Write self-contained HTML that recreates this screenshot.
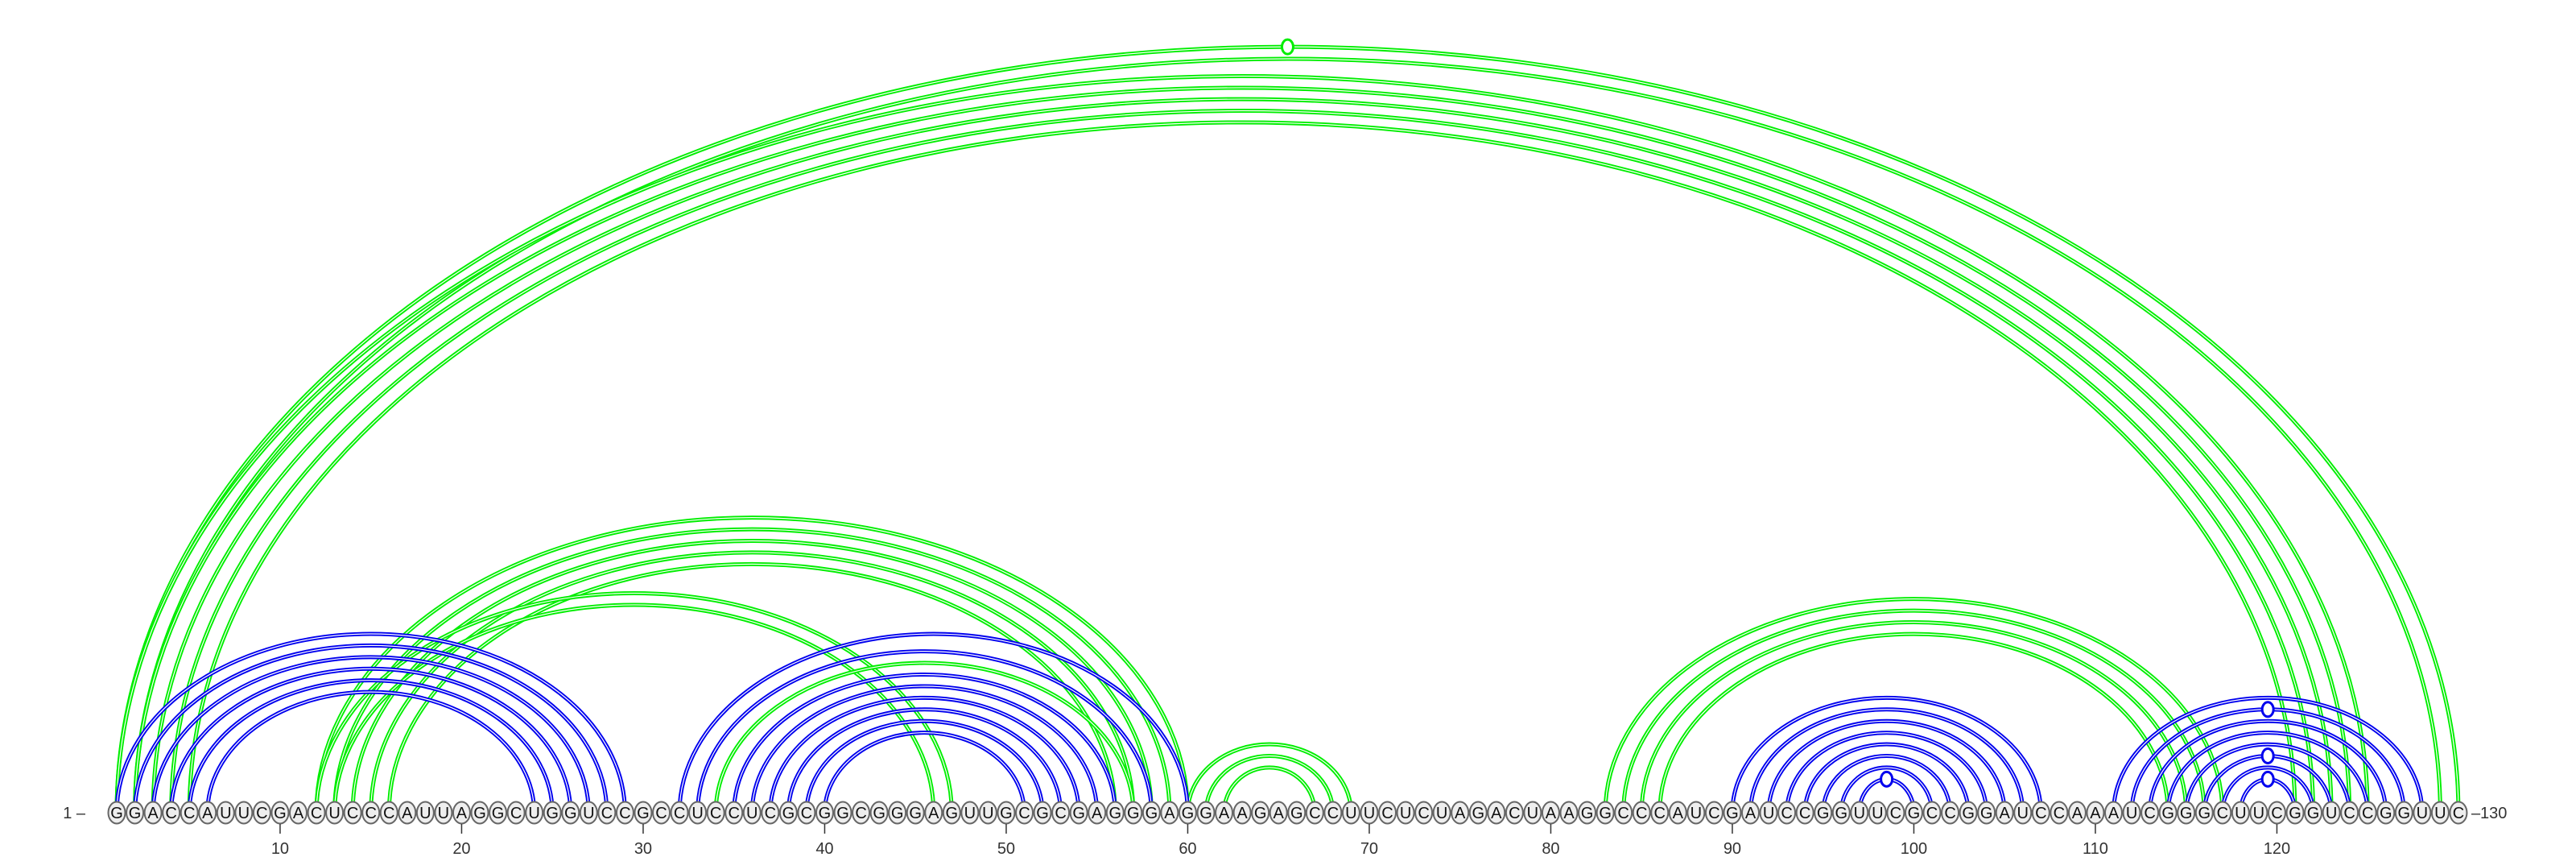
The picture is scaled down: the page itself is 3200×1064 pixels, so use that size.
<!DOCTYPE html>
<html><head><meta charset="utf-8"><style>
html,body{margin:0;padding:0;background:#fff;}
svg{display:block;font-family:"Liberation Sans",sans-serif;}
</style></head><body>
<svg id="chart" width="3200" height="1064" viewBox="0 0 3200 1064" xmlns="http://www.w3.org/2000/svg">
<g id="arcs"></g>
<g id="bases"></g>
<g id="axis"></g>
</svg>
<script>
const sequence = "GGACCAUUCGACUCCCAUUAGGCUGGUCCGCCUCCUCGCGGCGGGAGUUGCGCGAGGGAGGAAGAGCCUUCUCUAGACUAAGGCCCAUCGAUCCGGUUCGCCGGAUCCAAAUCGGGCUUCGGUCCGGUUC";
const tickPositions = [10,20,30,40,50,60,70,80,90,100,110,120];
const bluePairs = [[1,29],[2,28],[3,27],[4,26],[5,25],[6,24],
  [32,60],[33,58],[35,56],[36,55],[37,54],[38,53],[39,52],[40,51],
  [90,107],[91,106],[92,105],[93,104],[94,103],[95,102],[96,101],[97,100],
  [111,128],[112,127],[113,126],[114,125],[115,124],[116,123],[117,122],[118,121]];
const greenPairs = [[1,130],[2,129],[1,125],[2,124],[3,123],[4,122],[5,121],
  [12,60],[13,59],[14,58],[15,57],[16,56],[12,47],[13,46],[34,57],
  [60,69],[61,68],[62,67],
  [83,117],[84,116],[85,115],[86,114]];
const markedPairs = [[1,130],[97,100],[112,127],[116,123],[118,121]];

const NS="http://www.w3.org/2000/svg";
const baseY=1009;
function xPos(i){return 145+(i-1)*22.55;}
function arcHeight(hw){return 0.64*hw+20;}
function mk(tag,attrs,parent){const e=document.createElementNS(NS,tag);for(const k in attrs)e.setAttribute(k,attrs[k]);parent.appendChild(e);return e;}
const arcs=document.getElementById('arcs');
function isMarked(p){return markedPairs.some(m=>m[0]===p[0]&&m[1]===p[1]);}
function drawArcs(pairs,color,name){
  pairs.forEach(p=>{
    const x1=xPos(p[0]),x2=xPos(p[1]),hw=(x2-x1)/2,h=arcHeight(hw);
    const d=`M${x1},${baseY} A${hw},${h} 0 0 1 ${x2},${baseY}`;
    const path=mk('path',{d:d,fill:'none',stroke:color,'stroke-width':5},arcs);
    
    
    const inner=mk('path',{d:d,fill:'none',stroke:'#fff','stroke-width':1.2},arcs);
    
    
    if(isMarked(p)){
      const m=mk('ellipse',{cx:(x1+x2)/2,cy:baseY-h,rx:7,ry:9,fill:'#fff',stroke:color,'stroke-width':3},arcs);
      
      
    }
  });
}
drawArcs(greenPairs,'#00ee00','green-arc');
drawArcs(bluePairs,'#0000ee','blue-arc');
const bases=document.getElementById('bases');
for(let i=1;i<=sequence.length;i++){
  const g=mk('g',{},bases);
  
  
  mk('ellipse',{cx:xPos(i),cy:baseY,rx:10.5,ry:13.5,fill:'#eeeeee',stroke:'#666','stroke-width':2},g);
  const t=mk('text',{x:xPos(i),y:baseY+7,'text-anchor':'middle','font-size':20,fill:'#111'},g);
  t.textContent=sequence[i-1];
}
const axis=document.getElementById('axis');
const l1=mk('text',{x:106,y:baseY+7,'text-anchor':'end','font-size':20,fill:'#333'},axis);
l1.textContent='1 –';


const l2=mk('text',{x:xPos(130)+16,y:baseY+7,'font-size':20,fill:'#333'},axis);
l2.textContent='–130';


tickPositions.forEach(p=>{
  const tk=mk('line',{x1:xPos(p),x2:xPos(p),y1:1023,y2:1035,stroke:'#333','stroke-width':1.5},axis);
  
  
  const tl=mk('text',{x:xPos(p),y:1060,'text-anchor':'middle','font-size':20,fill:'#333'},axis);
  tl.textContent=p;
  
  
});
</script>
</body></html>
